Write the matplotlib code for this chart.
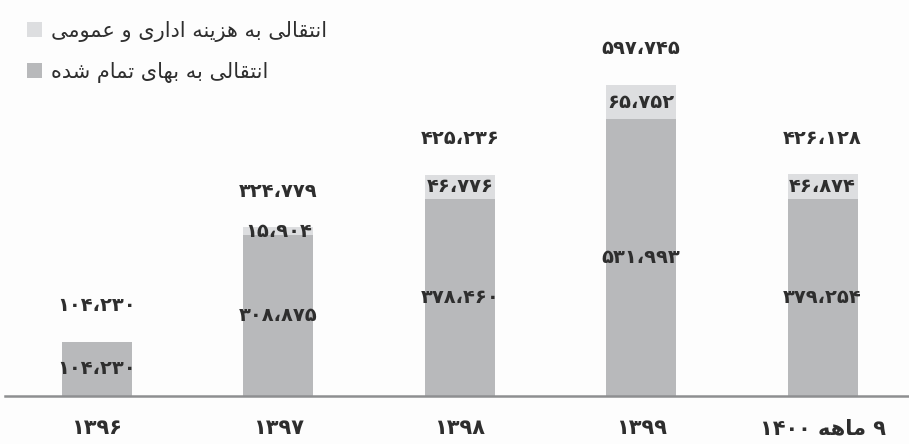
import re
import matplotlib
matplotlib.use("Agg")
import matplotlib.pyplot as plt

categories = ["۱۳۹۶", "۱۳۹۷", "۱۳۹۸", "۱۳۹۹", "۹ ماهه ۱۴۰۰"]
cost_of_sales = [104230, 308875, 378460, 531993, 379254]
admin_expense = [0, 15904, 46776, 65752, 46874]
label_cost = "انتقالی به بهای تمام شده"
label_admin = "انتقالی به هزینه اداری و عمومی"

# presentation forms: isolated, final, initial, medial
FORMS = {
    "ا": ("\uFE8D", "\uFE8E"), "ز": ("\uFEAF", "\uFEB0"), "د": ("\uFEA9", "\uFEAA"),
    "ر": ("\uFEAD", "\uFEAE"), "و": ("\uFEED", "\uFEEE"),
    "ب": ("\uFE8F", "\uFE90", "\uFE91", "\uFE92"), "ت": ("\uFE95", "\uFE96", "\uFE97", "\uFE98"),
    "ق": ("\uFED5", "\uFED6", "\uFED7", "\uFED8"), "ل": ("\uFEDD", "\uFEDE", "\uFEDF", "\uFEE0"),
    "ی": ("\uFBFC", "\uFBFD", "\uFBFE", "\uFBFF"), "ه": ("\uFEE9", "\uFEEA", "\uFEEB", "\uFEEC"),
    "ن": ("\uFEE5", "\uFEE6", "\uFEE7", "\uFEE8"), "ع": ("\uFEC9", "\uFECA", "\uFECB", "\uFECC"),
    "م": ("\uFEE1", "\uFEE2", "\uFEE3", "\uFEE4"), "ش": ("\uFEB5", "\uFEB6", "\uFEB7", "\uFEB8"),
}


def shape_word(w):
    out = []
    for i, c in enumerate(w):
        f = FORMS.get(c)
        if f is None:
            out.append(c)
            continue
        prev = w[i - 1] if i > 0 else None
        nxt = w[i + 1] if i + 1 < len(w) else None
        join_prev = prev in FORMS and len(FORMS[prev]) == 4
        join_next = len(f) == 4 and nxt in FORMS
        if join_prev and join_next:
            out.append(f[3])
        elif join_prev:
            out.append(f[1])
        elif join_next:
            out.append(f[2])
        else:
            out.append(f[0])
    return "".join(out)


def fa(text):
    # crude rtl: reverse runs, reverse letters inside arabic runs
    runs = re.findall(r"[\u0600-\u06FF]+|\s+|[^\s\u0600-\u06FF]+", text)
    vis = []
    for r in runs:
        if re.match(r"[\u06F0-\u06F9\u060C]+$", r):
            vis.append(r)
        elif re.match(r"[\u0600-\u06FF]+$", r):
            vis.append(shape_word(r)[::-1])
        else:
            vis.append(r)
    return "".join(vis[::-1])


def fa_num(n):
    s = f"{n:,}".replace(",", "\u060C")
    return s.translate(str.maketrans("0123456789", "۰۱۲۳۴۵۶۷۸۹"))


plt.rcParams["font.family"] = ["DejaVu Sans"]

dark = "#b8b9bb"
light = "#dddee0"
txt = "#2e2e2e"

fig = plt.figure(figsize=(9.09, 4.44), dpi=100)
fig.patch.set_facecolor("#fdfdfd")
ax = fig.add_axes([5 / 909, 48 / 444, 904 / 909, 396 / 444])
ax.set_facecolor("none")

x = range(len(categories))
totals = [a + b for a, b in zip(cost_of_sales, admin_expense)]
b1 = ax.bar(x, cost_of_sales, width=0.386, color=dark, zorder=2)
b2 = ax.bar(x, admin_expense, width=0.386, bottom=cost_of_sales, color=light, zorder=2)

for i in x:
    ax.text(i, cost_of_sales[i] / 2, fa_num(cost_of_sales[i]), ha="center", va="center",
            fontsize=14, fontweight="bold", color=txt, zorder=3)
    if admin_expense[i] > 0:
        ax.text(i, cost_of_sales[i] + admin_expense[i] / 2, fa_num(admin_expense[i]),
                ha="center", va="center", fontsize=14, fontweight="bold", color=txt, zorder=3)
    ax.annotate(fa_num(totals[i]), (i, totals[i]), xytext=(0, 36), textcoords="offset pixels",
                ha="center", va="center", fontsize=14, fontweight="bold", color=txt)

ax.set_xlim(-0.507, 4.476)
ax.set_ylim(0, 761100)
ax.set_xticks(list(x))
ax.set_xticklabels([fa(c) for c in categories], fontsize=15, fontweight="bold", color=txt)
ax.tick_params(axis="x", length=0, pad=16)
ax.set_yticks([])
for s in ["top", "right", "left"]:
    ax.spines[s].set_visible(False)
ax.spines["bottom"].set_color("#8e8f91")
ax.spines["bottom"].set_linewidth(1.8)

fig.legend([b2, b1], [fa(label_admin), fa(label_cost)], loc="upper left",
           bbox_to_anchor=(27 / 909, 1 - 21 / 444), frameon=False, fontsize=15,
           borderpad=0, borderaxespad=0,
           handlelength=0.72, handleheight=0.72, handletextpad=0.45, labelspacing=0.95,
           labelcolor=txt)

fig.savefig("out.png", dpi=100, facecolor=fig.get_facecolor())
